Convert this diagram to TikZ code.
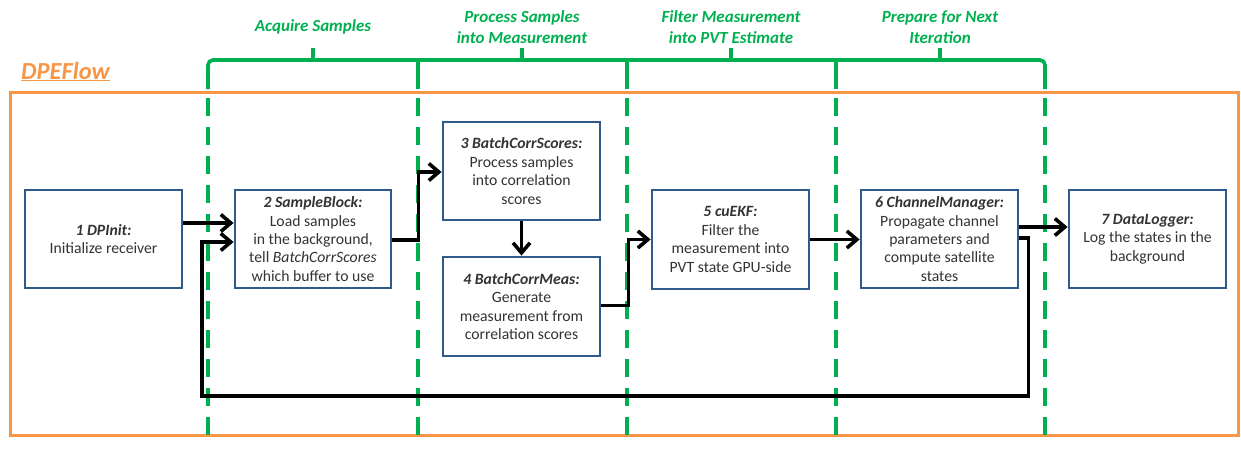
\documentclass[tikz,border=0pt]{standalone}
\usepackage{fontspec}
\setmainfont{Carlito}
\usetikzlibrary{arrows.meta,calc}
\definecolor{ogreen}{HTML}{00B050}
\definecolor{oorange}{HTML}{F79646}
\definecolor{oblue}{HTML}{2F5A8C}
\definecolor{otext}{HTML}{333333}
\begin{document}
\begin{tikzpicture}[x=1pt,y=-1pt,
  box/.style={draw=oblue,line width=2.8pt,fill=white,minimum width=157pt,minimum height=98pt,
    inner sep=0pt,align=center,text=otext,font=\fontsize{15.7}{18.4}\selectfont},
  flow/.style={line width=3.8pt,draw=black,-{Straight Barb[length=10pt,width=17pt,line width=3.6pt]}},
  phase/.style={ogreen,line width=3.6pt},
  phasedash/.style={ogreen,line width=3.6pt,dash pattern=on 18pt off 11pt},
  plabel/.style={text=ogreen,font=\fontsize{17}{21}\selectfont\bfseries\itshape,align=center}]
\useasboundingbox (0,0) rectangle (1241,452);
% orange frame
\draw[oorange,line width=3pt] (10,92) rectangle (1238,435);
\node[anchor=base west,inner sep=0pt,text=oorange,font=\fontsize{24.5}{27}\selectfont\bfseries\itshape] (title) at (21,79) {\underline{DPEFlow}};
% green phase brackets
\draw[phase,rounded corners=5pt] (208,89) -- (208,60) -- (1045,60) -- (1045,89);
\foreach \x in {418,627,836} \draw[phase] (\x,60) -- (\x,89);
\foreach \x in {313,522,731,940} \draw[phase] (\x,61) -- (\x,48);
\foreach \x in {208,418,627,836,1045} \draw[phasedash] (\x,98) -- (\x,442);
\node[plabel] (p1) at (313,27) {Acquire Samples};
\node[plabel] (p2) at (522,27.5) {Process Samples\\into Measurement};
\node[plabel] (p3) at (731,27.5) {Filter Measurement\\into PVT Estimate};
\node[plabel] (p4) at (940,27.5) {Prepare for Next\\Iteration};
% boxes
\node[box] (b1) at (103.5,239) {\textbf{\textit{1 DPInit:}}\\Initialize receiver};
\node[box,minimum width=156pt] (b2) at (313,239) {\textbf{\textit{2 SampleBlock:}}\\Load samples\\in the background,\\tell \textit{BatchCorrScores}\\which buffer to use};
\node[box] (b3) at (521.5,171) {\textbf{\textit{3 BatchCorrScores:}}\\Process samples\\into correlation\\scores};
\node[box,minimum height=99pt] (b4) at (521.5,306.5) {\textbf{\textit{4 BatchCorrMeas:}}\\Generate\\measurement from\\correlation scores};
\node[box,minimum height=99pt] (b5) at (730.5,239.5) {\textbf{\textit{5 cuEKF:}}\\Filter the\\measurement into\\PVT state GPU-side};
\node[box] (b6) at (939.5,239) {\textbf{\textit{6 ChannelManager:}}\\Propagate channel\\parameters and\\compute satellite\\states};
\node[box] (b7) at (1147.5,239) {\textbf{\textit{7 DataLogger:}}\\Log the states in the\\background};
% connectors
\coordinate (fb) at (202,396);
\draw[flow] ([yshift=16pt]b1.east) -- ([yshift=16pt]b2.west);
\draw[flow] ([yshift=-1pt]b2.east) -- ++(26pt,0) |- ([yshift=-1pt]b3.west);
\draw[flow] (b3.south) -- (b4.north);
\draw[flow] ([yshift=1pt]b4.east) -- ++(27pt,0) |- (b5.west);
\draw[flow] (b5.east) -- (b5.east -| b6.west);
\draw[flow] ([yshift=12pt]b6.east) -- ([yshift=12pt]b6.east -| b7.west);
\draw[flow] ([yshift=1pt]b6.east) -- ++(9pt,0) |- (fb) |- ([yshift=-3pt]b2.west);
\end{tikzpicture}
\end{document}
